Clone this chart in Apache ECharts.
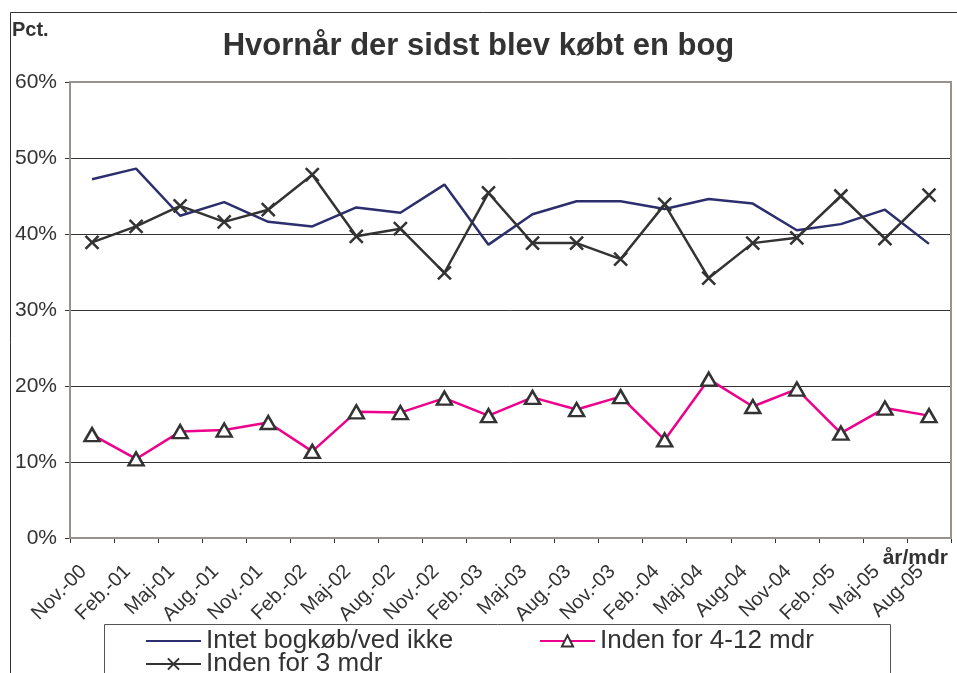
<!DOCTYPE html>
<html>
<head>
<meta charset="utf-8">
<script src="https://cdn.jsdelivr.net/npm/echarts@6/dist/echarts.min.js"></script>
<style>
  html, body { margin: 0; padding: 0; background: #fff; }
  #chart { width: 957px; height: 673px; }
</style>
</head>
<body>
<div id="chart"></div>
<script>
// Survey rounds (quarterly)
const categories = ['Nov.-00', 'Feb.-01', 'Maj-01', 'Aug.-01', 'Nov.-01', 'Feb.-02', 'Maj-02', 'Aug.-02',
  'Nov.-02', 'Feb.-03', 'Maj-03', 'Aug.-03', 'Nov.-03', 'Feb.-04', 'Maj-04', 'Aug-04', 'Nov-04',
  'Feb.-05', 'Maj-05', 'Aug-05'];

// Share of respondents, percent
const intetBogkob = [47.2, 48.6, 42.4, 44.2, 41.6, 41.0, 43.5, 42.8, 46.5, 38.6,
  42.6, 44.3, 44.3, 43.3, 44.6, 44.0, 40.5, 41.3, 43.2, 38.7];
const inden3mdr = [38.9, 41.0, 43.7, 41.6, 43.2, 47.8, 39.7, 40.7, 34.9, 45.4,
  38.8, 38.8, 36.7, 43.9, 34.2, 38.8, 39.5, 45.0, 39.4, 45.1];
const inden4til12mdr = [13.6, 10.4, 14.0, 14.2, 15.2, 11.4, 16.6, 16.5, 18.4, 16.1,
  18.5, 16.9, 18.6, 12.9, 20.9, 17.3, 19.6, 13.8, 17.1, 16.1];

// Y-axis ticks
const yTicks = [0, 10, 20, 30, 40, 50, 60];

const FONT = "'Liberation Sans', Arial, Helvetica, sans-serif";
const GRID = { left: 70, right: 6, top: 82, bottom: 135 };
const W = 957, H = 673;
const crossPath = 'path://M0,0L10,10M10,0L0,10';

const chart = echarts.init(document.getElementById('chart'), null, { renderer: 'canvas' });

chart.setOption({
  backgroundColor: '#ffffff',
  animation: false,
  textStyle: { fontFamily: FONT },
  title: {
    text: 'Hvornår der sidst blev købt en bog',
    left: 'center',
    top: 31,
    padding: 0,
    textStyle: { fontFamily: FONT, fontSize: 31, fontWeight: 'bold', color: '#333333' }
  },
  grid: { left: GRID.left, right: GRID.right, top: GRID.top, bottom: GRID.bottom },
  legend: [
    {
      data: [
        { name: 'Intet bogkøb/ved ikke', itemStyle: { opacity: 0 } },
        'Inden for 4-12 mdr'
      ],
      left: 145, top: 628, padding: 0,
      itemWidth: 55, itemHeight: 14, itemGap: 13, itemTextGap: 6,
      textStyle: { fontFamily: FONT, fontSize: 26, color: '#333333', width: 320, lineHeight: 26 }
    },
    {
      data: ['Inden for 3 mdr'],
      left: 145, top: 651, padding: 0,
      itemWidth: 55, itemHeight: 14, itemTextGap: 6,
      textStyle: { fontFamily: FONT, fontSize: 26, color: '#333333', lineHeight: 26 }
    }
  ],
  xAxis: {
    type: 'category',
    data: categories,
    boundaryGap: true,
    axisLine: { lineStyle: { color: '#333333', width: 1.5 } },
    axisTick: { show: true, interval: 0, length: 5, lineStyle: { color: '#333333', width: 1 } },
    axisLabel: {
      interval: 0, rotate: 45, margin: 22, padding: [0, 12, 0, 0],
      fontFamily: FONT, fontSize: 20, color: '#333333'
    },
    splitLine: { show: false }
  },
  yAxis: {
    type: 'value',
    min: yTicks[0], max: yTicks[yTicks.length - 1], interval: 10,
    axisLine: { show: true, lineStyle: { color: '#333333', width: 1.5 } },
    axisTick: { show: true, length: 5, lineStyle: { color: '#333333', width: 1 } },
    axisLabel: { formatter: '{value}%', margin: 13, fontFamily: FONT, fontSize: 21, color: '#333333' },
    splitLine: { show: true, lineStyle: { color: '#333333', width: 1 } }
  },
  graphic: [
    // outer chart frame (top and left edges)
    {
      type: 'polyline', z: 1, silent: true,
      shape: { points: [[10.5, H], [10.5, 12.5], [W, 12.5]] },
      style: { stroke: '#333333', lineWidth: 1, fill: null }
    },
    // plot area border
    {
      type: 'rect', z: 1, silent: true,
      shape: { x: GRID.left, y: GRID.top, width: W - GRID.left - GRID.right, height: H - GRID.top - GRID.bottom },
      style: { stroke: '#9a928e', lineWidth: 2, fill: null }
    },
    // y-axis unit
    {
      type: 'text', z: 5, left: 12, top: 20, silent: true,
      style: { text: 'Pct.', font: 'bold 20px ' + FONT, fill: '#333333' }
    },
    // x-axis unit
    {
      type: 'text', z: 5, right: 9, top: 548, silent: true,
      style: { text: 'år/mdr', font: 'bold 21px ' + FONT, fill: '#333333' }
    },
    // legend box
    {
      type: 'rect', z: 1, silent: true,
      shape: { x: 104.5, y: 624.5, width: 786, height: 70 },
      style: { stroke: '#555555', lineWidth: 1, fill: '#ffffff' }
    }
  ],
  series: [
    {
      name: 'Intet bogkøb/ved ikke',
      type: 'line',
      data: intetBogkob,
      showSymbol: false, symbol: 'none',
      lineStyle: { color: '#2c2e6e', width: 2.5 },
      itemStyle: { color: '#2c2e6e' },
      z: 2
    },
    {
      name: 'Inden for 3 mdr',
      type: 'line',
      data: inden3mdr,
      symbol: crossPath, symbolSize: 13,
      lineStyle: { color: '#333333', width: 2.5 },
      itemStyle: { color: '#333333', borderColor: '#333333', borderWidth: 2.5 },
      z: 3
    },
    {
      name: 'Inden for 4-12 mdr',
      type: 'line',
      data: inden4til12mdr,
      symbol: 'triangle', symbolSize: [15, 13],
      lineStyle: { color: '#ec008c', width: 2.5 },
      itemStyle: { color: '#ffffff', borderColor: '#333333', borderWidth: 2.5 },
      z: 4
    }
  ]
});
</script>
</body>
</html>
